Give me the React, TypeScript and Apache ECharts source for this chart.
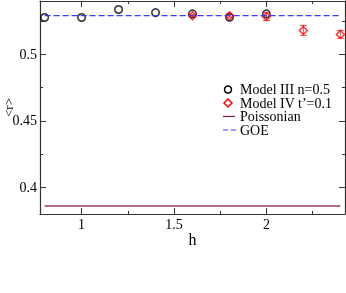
import React, { useEffect, useRef } from "react";
import * as echarts from "echarts";

const hModelIII = [0.8, 1.0, 1.2, 1.4, 1.6, 1.8, 2.0];
const rModelIII = [0.5276, 0.5276, 0.5336, 0.5313, 0.5304, 0.5278, 0.5304];
const hModelIV = [1.6, 1.8, 2.0, 2.2, 2.4];
const rModelIV = [0.5289, 0.5289, 0.5284, 0.5179, 0.5149];
const errModelIV = [0.001, 0.001, 0.003, 0.0037, 0.003];
const poissonValue = 0.386;
const goeValue = 0.529;
const lineRange = [0.8, 2.4];
const xMajor = [1, 1.5, 2];
const xMinor = [1.25, 1.75, 2.25];
const yMajor = [0.4, 0.45, 0.5];
const yMinor = [0.425, 0.475, 0.525];
const legendNames = ["Model III n=0.5", "Model IV t\u2019=0.1", "Poissonian", "GOE"];

const FONT = "Liberation Serif";
const POIS_COLOR = "#9a3a78";
const GOE_COLOR = "#3a3aff";

export default function App() {
  const ref = useRef<HTMLDivElement>(null);
  useEffect(() => {
    const chart = echarts.init(ref.current!, undefined, { renderer: "svg" });
    const axisLine = { show: true, lineStyle: { color: "#333", width: 1.2 } };
    const xBase = { type: "value", min: 0.775, max: 2.425, splitLine: { show: false } };
    const yBase = { type: "value", min: 0.38, max: 0.54, splitLine: { show: false } };
    const mkX = (pos: string, ticks: number[], len: number, labels: boolean, line: boolean) => ({
      ...xBase,
      position: pos,
      axisLine: line ? axisLine : { show: false },
      axisTick: { show: true, inside: true, length: len, customValues: ticks, lineStyle: { color: "#333" } },
      axisLabel: labels
        ? { show: true, customValues: ticks, margin: 3, fontFamily: FONT, fontSize: 14, color: "#000" }
        : { show: false },
    });
    const mkY = (pos: string, ticks: number[], len: number, labels: boolean, line: boolean) => ({
      ...yBase,
      position: pos,
      axisLine: line ? axisLine : { show: false },
      axisTick: { show: true, inside: true, length: len, customValues: ticks, lineStyle: { color: "#333" } },
      axisLabel: labels
        ? { show: true, customValues: ticks, margin: 3, fontFamily: FONT, fontSize: 14, color: "#000" }
        : { show: false },
    });
    const errData = hModelIV.map((h, i) => [h, rModelIV[i] - errModelIV[i], rModelIV[i] + errModelIV[i]]);

    const lx = 228;
    const rows = [89.5, 103, 116.5, 130];
    const legendGraphics: any[] = [
      { type: "circle", shape: { cx: lx, cy: rows[0], r: 3.5 }, style: { fill: "none", stroke: "#000", lineWidth: 1.5 } },
      {
        type: "polygon",
        shape: { points: [[lx, rows[1] - 4], [lx + 4, rows[1]], [lx, rows[1] + 4], [lx - 4, rows[1]]] },
        style: { fill: "none", stroke: "#ff0000", lineWidth: 1.5 },
      },
      { type: "line", shape: { x1: 223, y1: rows[2], x2: 235, y2: rows[2] }, style: { stroke: "#702050", lineWidth: 1.2 } },
      {
        type: "line",
        shape: { x1: 223, y1: rows[3], x2: 237, y2: rows[3] },
        style: { stroke: GOE_COLOR, lineWidth: 1.2, lineDash: [5, 3] },
      },
      ...legendNames.map((n, i) => ({
        type: "text",
        x: 240,
        y: rows[i],
        style: {
          text: n,
          fontFamily: FONT,
          fontSize: 14,
          lineHeight: 13,
          fill: "#000",
          verticalAlign: "middle",
          align: "left",
        },
      })),
    ];

    chart.setOption({
      animation: false,
      grid: { left: 40, top: 1, width: 305, height: 213, outerBoundsMode: "none", containLabel: false },
      xAxis: [
        {
          ...mkX("bottom", xMajor, 6, true, true),
          name: "h",
          nameLocation: "middle",
          nameGap: 17,
          nameMoveOverlap: false,
          nameTextStyle: { fontFamily: FONT, fontSize: 16, color: "#000" },
        },
        mkX("bottom", xMinor, 3, false, false),
        mkX("top", xMajor, 6, false, true),
        mkX("top", xMinor, 3, false, false),
      ],
      yAxis: [
        {
          ...mkY("left", yMajor, 6, true, true),
          name: "<r>",
          nameLocation: "middle",
          nameGap: 25,
          nameRotate: 90,
          nameMoveOverlap: false,
          nameTextStyle: { fontFamily: FONT, fontSize: 13, color: "#000", lineHeight: 13 },
        },
        mkY("left", yMinor, 3, false, false),
        mkY("right", yMajor, 6, false, true),
        mkY("right", yMinor, 3, false, false),
      ],
      graphic: legendGraphics,
      series: [
        {
          name: legendNames[0],
          type: "scatter",
          symbol: "circle",
          symbolSize: 7.5,
          itemStyle: { color: "rgba(255,255,255,0)", borderColor: "#000", borderWidth: 1.5 },
          data: hModelIII.map((h, i) => [h, rModelIII[i]]),
        },
        {
          name: "err",
          type: "custom",
          renderItem: (params: any, api: any) => {
            const x = api.value(0);
            const lo = api.coord([x, api.value(1)]);
            const hi = api.coord([x, api.value(2)]);
            const style = { stroke: "#ff5050", lineWidth: 1 };
            return {
              type: "group",
              children: [
                { type: "line", shape: { x1: lo[0], y1: lo[1], x2: hi[0], y2: hi[1] }, style },
                { type: "line", shape: { x1: lo[0] - 3.5, y1: lo[1], x2: lo[0] + 3.5, y2: lo[1] }, style },
                { type: "line", shape: { x1: hi[0] - 3.5, y1: hi[1], x2: hi[0] + 3.5, y2: hi[1] }, style },
              ],
            };
          },
          data: errData,
        },
        {
          name: legendNames[1],
          type: "scatter",
          symbol: "diamond",
          symbolSize: 8,
          itemStyle: { color: "rgba(255,255,255,0)", borderColor: "#ff0000", borderWidth: 1.5 },
          data: hModelIV.map((h, i) => [h, rModelIV[i]]),
        },
        {
          name: legendNames[2],
          type: "line",
          symbol: "none",
          lineStyle: { color: POIS_COLOR, width: 1.5 },
          data: lineRange.map((h) => [h, poissonValue]),
        },
        {
          name: legendNames[3],
          type: "line",
          symbol: "none",
          lineStyle: { color: GOE_COLOR, width: 1.2, type: [6, 3] },
          data: lineRange.map((h) => [h, goeValue]),
        },
      ],
    });
    return () => chart.dispose();
  }, []);
  return <div ref={ref} style={{ position: "fixed", left: 0, top: 0, width: 346, height: 293 }} />;
}
